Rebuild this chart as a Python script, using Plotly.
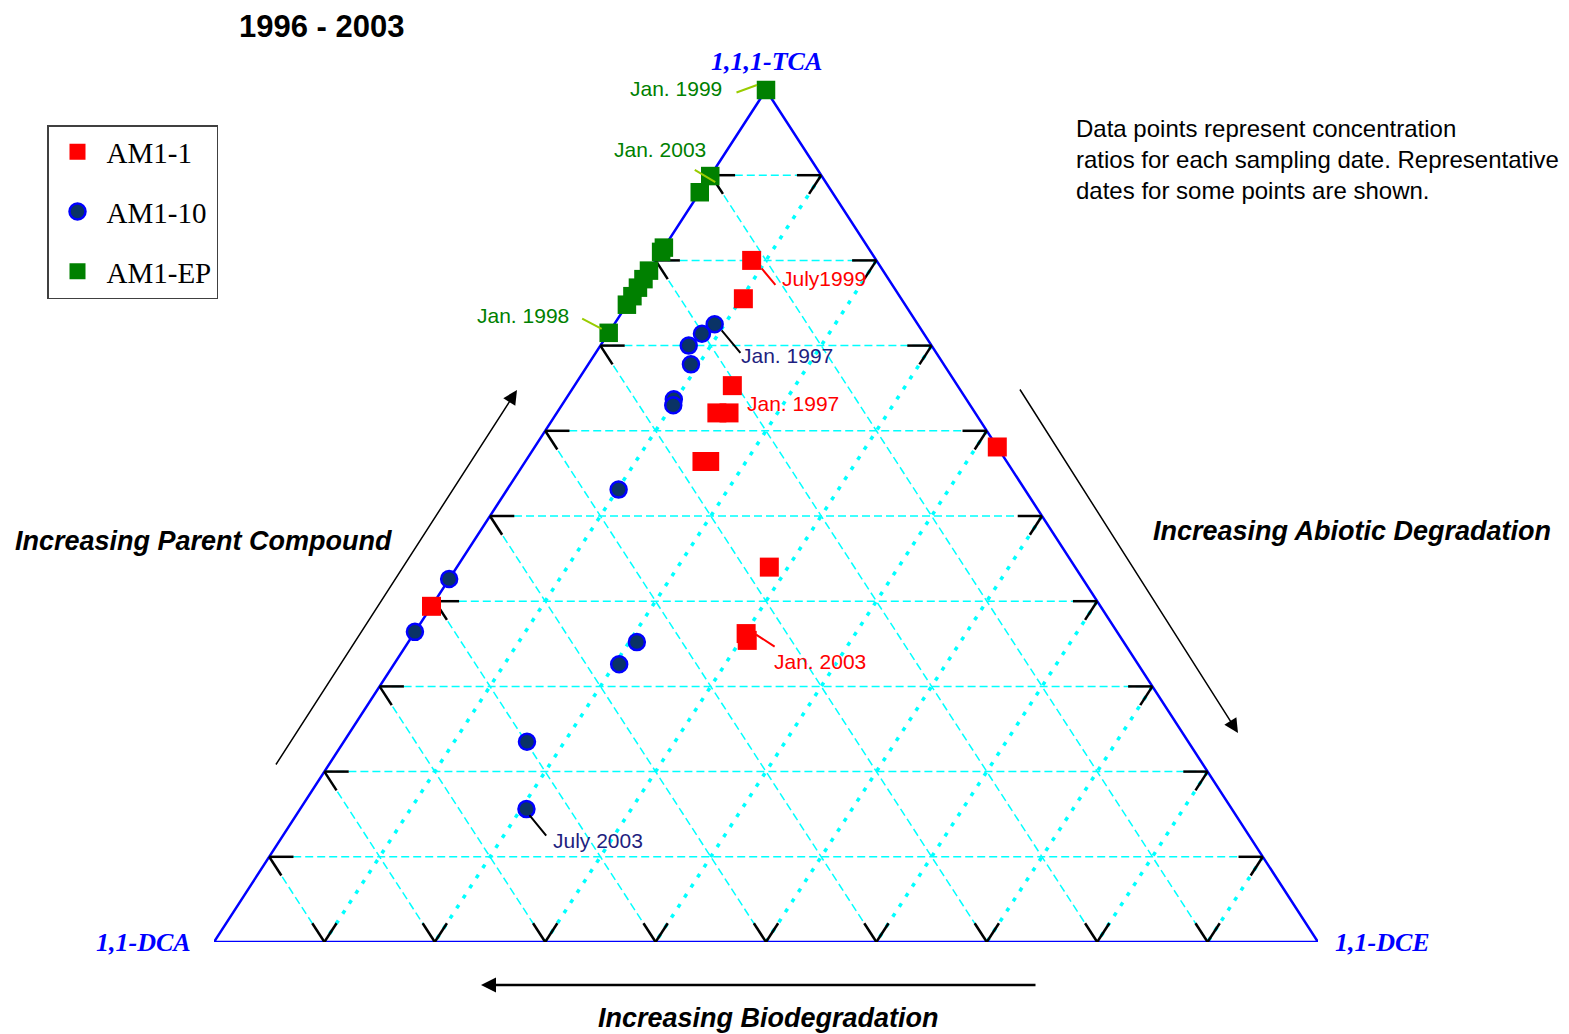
import plotly.graph_objects as go

# ---------------- data: ternary percentages (1,1,1-TCA, 1,1-DCA, 1,1-DCE) ----------------
AM1_1_TCA = [80.0, 75.5, 65.3, 62.1, 62.1, 56.4, 56.4, 58.1, 44.0, 36.2, 35.4, 39.4]
AM1_1_DCA = [11.3, 14.3, 20.4, 23.4, 22.3, 27.6, 26.9, 0.0, 27.7, 33.7, 34.0, 60.6]
AM1_1_DCE = [8.7, 10.2, 14.3, 14.5, 15.6, 16.0, 16.7, 41.9, 28.3, 30.1, 30.6, 0.0]

AM1_10_TCA = [72.5, 71.4, 70.0, 67.8, 63.7, 63.0, 53.1, 42.6, 36.4, 35.2, 32.6, 23.5, 15.6]
AM1_10_DCA = [18.4, 20.1, 22.0, 22.9, 26.5, 26.9, 36.8, 57.4, 63.6, 44.1, 47.0, 59.9, 63.9]
AM1_10_DCE = [9.1, 8.5, 8.0, 9.3, 9.8, 10.1, 10.1, 0.0, 0.0, 20.7, 20.4, 16.6, 20.5]

AM1_EP_TCA = [100.0, 89.9, 88.0, 81.5, 81.0, 78.8, 77.8, 76.8, 75.8, 74.8, 71.5]
AM1_EP_DCA = [0.0, 10.1, 12.0, 18.5, 19.0, 21.2, 22.2, 23.2, 24.2, 25.2, 28.5]
AM1_EP_DCE = [0.0, 0.0, 0.0, 0.0, 0.0, 0.0, 0.0, 0.0, 0.0, 0.0, 0.0]

GRID = [10, 20, 30, 40, 50, 60, 70, 80, 90]
TICK = 2.2

VERTEX_LABELS = ["1,1,1-TCA", "1,1-DCA", "1,1-DCE"]
SERIES_NAMES = ["AM1-1", "AM1-10", "AM1-EP"]

# date labels: (series, point index, text)
DATE_LABELS = [
    ("AM1-EP", 0, "Jan. 1999"),
    ("AM1-EP", 1, "Jan. 2003"),
    ("AM1-EP", 10, "Jan. 1998"),
    ("AM1-1", 0, "July1999"),
    ("AM1-10", 0, "Jan. 1997"),
    ("AM1-1", 4, "Jan. 1997"),
    ("AM1-1", 9, "Jan. 2003"),
    ("AM1-10", 12, "July 2003"),
]

# ---------------- helpers ----------------
def pt(tca, dca, dce):
    s = tca + dca + dce
    t, e = tca / s, dce / s
    return e + t / 2.0, t


def to_xy(tca, dca, dce):
    xs, ys = [], []
    for a, b, c in zip(tca, dca, dce):
        x, y = pt(a, b, c)
        xs.append(x)
        ys.append(y)
    return xs, ys


def segs(pairs):
    xs, ys = [], []
    for p, q in pairs:
        x0, y0 = pt(*p)
        x1, y1 = pt(*q)
        xs += [x0, x1, None]
        ys += [y0, y1, None]
    return xs, ys


# pixel geometry of the plot area (used only for paper-positioned decorations)
L, R, T, B = 214, 1318, 90, 942
W, H = 1569, 1034


def paper(px, py):
    return (px - L) / (R - L), (B - py) / (B - T)


fig = go.Figure()

# ---------------- grid ----------------
hx, hy = segs([((g, 100 - g, 0), (g, 0, 100 - g)) for g in GRID])
fig.add_trace(go.Scatter(x=hx, y=hy, mode="lines", showlegend=False, hoverinfo="skip",
                         line=dict(color="#00FFFF", width=1.5, dash="8px,4px")))
dx_, dy_ = segs([((100 - a, a, 0), (0, a, 100 - a)) for a in GRID])
fig.add_trace(go.Scatter(x=dx_, y=dy_, mode="lines", showlegend=False, hoverinfo="skip",
                         line=dict(color="#00FFFF", width=1.5, dash="8px,4px")))
ex_, ey_ = segs([((100 - e, 0, e), (0, 100 - e, e)) for e in GRID])
fig.add_trace(go.Scatter(x=ex_, y=ey_, mode="lines", showlegend=False, hoverinfo="skip",
                         line=dict(color="#00FFFF", width=3.5, dash="4px,8px")))

# ---------------- triangle ----------------
tx, ty = to_xy([100, 0, 0, 100], [0, 100, 0, 0], [0, 0, 100, 0])
fig.add_trace(go.Scatter(x=tx, y=ty, mode="lines", showlegend=False, hoverinfo="skip",
                         line=dict(color="#0000FF", width=2.5)))

# ---------------- tick marks ----------------
tick_pairs = []
for g in GRID:
    tick_pairs.append(((g, 100 - g, 0), (g, 100 - g - TICK, TICK)))
    tick_pairs.append(((g, 100 - g, 0), (g - TICK, 100 - g, TICK)))
    tick_pairs.append(((g, 0, 100 - g), (g, TICK, 100 - g - TICK)))
    tick_pairs.append(((g, 0, 100 - g), (g - TICK, TICK, 100 - g)))
    tick_pairs.append(((0, 100 - g, g), (TICK, 100 - g, g - TICK)))
    tick_pairs.append(((0, 100 - g, g), (TICK, 100 - g - TICK, g)))
kx, ky = segs(tick_pairs)
fig.add_trace(go.Scatter(x=kx, y=ky, mode="lines", showlegend=False, hoverinfo="skip",
                         line=dict(color="#000000", width=2.5)))

# ---------------- data series ----------------
series = {
    "AM1-1": to_xy(AM1_1_TCA, AM1_1_DCA, AM1_1_DCE),
    "AM1-10": to_xy(AM1_10_TCA, AM1_10_DCA, AM1_10_DCE),
    "AM1-EP": to_xy(AM1_EP_TCA, AM1_EP_DCA, AM1_EP_DCE),
}
styles = {
    "AM1-1": dict(symbol="square", size=19, color="#FF0000", line=dict(width=0)),
    "AM1-10": dict(symbol="circle", size=16, color="#0A3366", line=dict(width=2.5, color="#0000FF")),
    "AM1-EP": dict(symbol="square", size=18.5, color="#008000", line=dict(width=0)),
}
for i, name in enumerate(SERIES_NAMES):
    xs, ys = series[name]
    fig.add_trace(go.Scatter(x=xs, y=ys, mode="markers", name=name, legendgroup=name,
                             marker=styles[name], cliponaxis=False))

# ---------------- date labels ----------------
label_style = {
    ("AM1-EP", "Jan. 1999"): dict(color="#008000", text=(-90, 2), lead=((-9, 5), (-22, 8)), lc="#99CC00"),
    ("AM1-EP", "Jan. 2003"): dict(color="#008000", text=(-50, 27), lead=((5, -6), (-22, -13)), lc="#99CC00"),
    ("AM1-EP", "Jan. 1998"): dict(color="#008000", text=(-86, 17), lead=((-7, 4), (-21, -11)), lc="#99CC00"),
    ("AM1-1", "July1999"): dict(color="#FF0000", text=(72, -18), lead=((10, -8), (15, 18)), lc="#FF0000"),
    ("AM1-10", "Jan. 1997"): dict(color="#1F1F80", text=(72, -31), lead=((7, -6), (20, 24)), lc="#000000"),
    ("AM1-1", "Jan. 1997"): dict(color="#FF0000", text=(64, 9), lead=None, lc=None),
    ("AM1-1", "Jan. 2003"): dict(color="#FF0000", text=(74, -28), lead=((10, -1), (20, 13)), lc="#FF0000"),
    ("AM1-10", "July 2003"): dict(color="#1F1F80", text=(72, -31), lead=((3, -6), (18, 22)), lc="#000000"),
}
for name, idx, text in DATE_LABELS:
    xs, ys = series[name]
    st = label_style[(name, text)]
    fig.add_annotation(x=xs[idx], y=ys[idx], xref="x", yref="y", text=text, showarrow=False,
                       xanchor="center", yanchor="middle",
                       xshift=st["text"][0], yshift=st["text"][1],
                       font=dict(family="Liberation Sans, Arial", size=21, color=st["color"]))
    if st["lead"]:
        (hxs, hys), (ax, ay) = st["lead"]
        fig.add_annotation(x=xs[idx], y=ys[idx], xref="x", yref="y", text="", showarrow=True,
                           arrowhead=0, arrowwidth=2, arrowcolor=st["lc"], ax=ax, ay=ay,
                           xshift=hxs, yshift=hys)

# ---------------- vertex labels ----------------
vfont = dict(family="Liberation Serif, Times New Roman", size=26, color="#0000FF",
             weight="bold", style="italic")
for text, (px, py) in zip(VERTEX_LABELS, [(766, 62), (143, 942), (1382, 942)]):
    xp, yp = paper(px, py)
    fig.add_annotation(x=xp, y=yp, xref="paper", yref="paper", text=text, showarrow=False,
                       xanchor="center", yanchor="middle", font=vfont)

# ---------------- titles and notes ----------------
afont = dict(family="Liberation Sans, Arial", size=27, color="#000000", weight="bold", style="italic")
for text, (px, py) in [("Increasing Parent Compound", (203, 541)),
                       ("Increasing Abiotic Degradation", (1352, 531)),
                       ("Increasing Biodegradation", (768, 1018))]:
    xp, yp = paper(px, py)
    fig.add_annotation(x=xp, y=yp, xref="paper", yref="paper", text=text, showarrow=False,
                       xanchor="center", yanchor="middle", font=afont)

xp, yp = paper(321, 26)
fig.add_annotation(x=xp, y=yp, xref="paper", yref="paper", text="1996 - 2003", showarrow=False,
                   xanchor="center", yanchor="middle",
                   font=dict(family="Liberation Sans, Arial", size=31, color="#000000", weight="bold"))

xp, yp = paper(1074, 160)
fig.add_annotation(x=xp, y=yp, xref="paper", yref="paper", xanchor="left", yanchor="middle", align="left",
                   text="Data points represent concentration<br>ratios for each sampling date. Representative<br>dates for some points are shown.",
                   showarrow=False, font=dict(family="Liberation Sans, Arial", size=24, color="#000000"))

# ---------------- direction arrows ----------------
for (hx_, hy_), (tx_, ty_), w, s in [((517, 390), (275, 766), 1.5, 1.9),
                                    ((1238, 733), (1019, 388), 1.5, 1.9),
                                    ((481, 985), (1037, 985), 2.5, 1.2)]:
    xp, yp = paper(hx_, hy_)
    fig.add_annotation(x=xp, y=yp, xref="paper", yref="paper", text="", showarrow=True,
                       arrowhead=2, arrowsize=s, arrowwidth=w, arrowcolor="#000000",
                       ax=tx_ - hx_, ay=ty_ - hy_)

lx, ly = paper(47, 125)
fig.update_layout(
    width=W, height=H,
    margin=dict(l=L, r=W - R, t=T, b=H - B),
    paper_bgcolor="white", plot_bgcolor="white",
    xaxis=dict(range=[0, 1], visible=False, fixedrange=True),
    yaxis=dict(range=[0, 1], visible=False, fixedrange=True),
    showlegend=True,
    legend=dict(x=lx, y=ly, xanchor="left", yanchor="top", traceorder="grouped",
                tracegroupgap=19, itemwidth=48, entrywidth=176, entrywidthmode="pixels",
                bordercolor="#404040", borderwidth=1.5, bgcolor="white",
                font=dict(family="Liberation Serif, Times New Roman", size=29, color="#000000")),
    font=dict(family="Liberation Sans, Arial"),
)

fig.write_html("out.html")
